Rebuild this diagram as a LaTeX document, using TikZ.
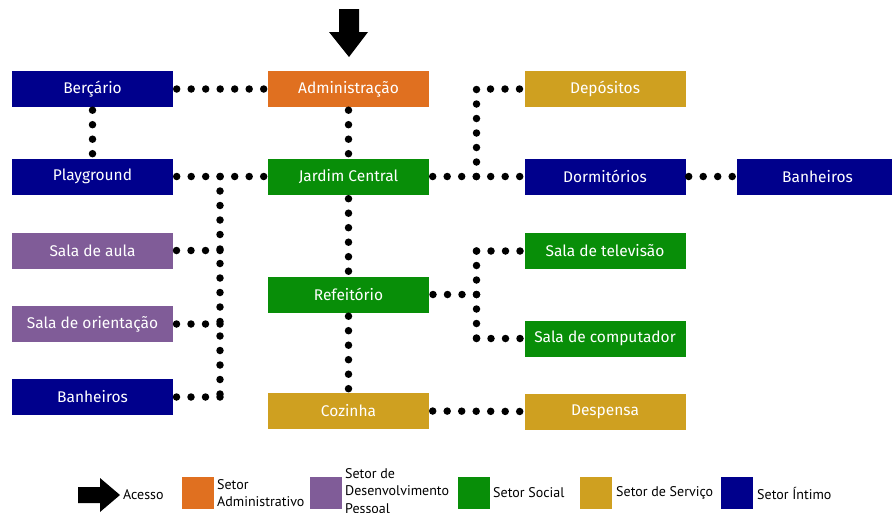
\documentclass[tikz,border=0pt]{standalone}
\usepackage{fontspec}
\setmainfont{Fira Sans}
\newfontfamily\legfont{PT Sans}
\definecolor{cblue}{RGB}{0,0,140}
\definecolor{corange}{RGB}{224,112,32}
\definecolor{cpurple}{RGB}{128,92,152}
\definecolor{cgreen}{RGB}{8,142,8}
\definecolor{cgold}{RGB}{207,160,32}
\begin{document}
\begin{tikzpicture}[x=1pt,y=-1pt,
  room/.style={rectangle, minimum width=161pt, minimum height=36pt, inner sep=0pt, text=white, font=\fontsize{15.5}{17}\selectfont},
  dotline/.style={line width=7.5pt, line cap=round, dash pattern=on 0pt off 14.5pt},
  legsq/.style={rectangle, minimum width=32pt, minimum height=32pt, inner sep=0pt},
  legtxt/.style={anchor=west, inner sep=0pt, align=left, font=\legfont\fontsize{14}{17.5}\selectfont}]
\useasboundingbox (0,0) rectangle (892,512);
% rooms
\node[room, fill=cblue] (ber) at (92.5,89) {Berçário};
\node[room, fill=corange] (adm) at (348.5,89) {Administração};
\node[room, fill=cgold] (dep) at (605,89) {Depósitos};
\node[room, fill=cblue] (play) at (92.5,176.5) {Playground};
\node[room, fill=cgreen] (jar) at (348.5,176.5) {Jardim Central};
\node[room, fill=cblue] (dorm) at (605,176.5) {Dormitórios};
\node[room, fill=cblue] (banR) at (817.5,176.5) {Banheiros};
\node[room, fill=cpurple] (aula) at (92.5,250.5) {Sala de aula};
\node[room, fill=cpurple] (ori) at (92.5,324) {Sala de orientação};
\node[room, fill=cblue] (banL) at (92.5,397) {Banheiros};
\node[room, fill=cgreen] (ref) at (348.5,294.5) {Refeitório};
\node[room, fill=cgold] (coz) at (348.5,411) {Cozinha};
\node[room, fill=cgreen] (tv) at (605,251) {Sala de televisão};
\node[room, fill=cgreen] (cmp) at (605,338.5) {Sala de computador};
\node[room, fill=cgold] (desp) at (605,411.5) {Despensa};
% junctions
\coordinate (jp) at (220,176.5);
\coordinate (ja) at (220,250.5);
\coordinate (jo) at (220,324);
\coordinate (jb) at (220,397);
\coordinate (jd) at (476.5,176.5);
\coordinate (jr) at (476.5,294.5);
\coordinate (jt) at (476.5,251);
\coordinate (jc) at (476.5,338.5);
% connectors
\draw[dotline, shorten <=3.5pt, shorten >=3.5pt] (ber.east) -- (adm.west);
\draw[dotline, shorten <=3pt, shorten >=3pt] (ber.south) -- (play.north);
\draw[dotline, shorten <=3pt, shorten >=3pt] (adm.south) -- (jar.north);
\draw[dotline, shorten <=3.5pt, shorten >=3.5pt] (play.east) -- (jar.west);
\draw[dotline] (jp) -- (jb);
\draw[dotline, shorten >=3pt] (ja) -- (aula.east);
\draw[dotline, shorten >=3pt] (jo) -- (ori.east);
\draw[dotline, shorten >=3pt] (jb) -- (banL.east);
\draw[dotline, shorten <=4pt, shorten >=4pt] (jar.south) -- (ref.north);
\draw[dotline, shorten <=3.5pt, shorten >=3.5pt] (ref.south) -- (coz.north);
\draw[dotline, shorten <=3.5pt, shorten >=3.5pt] (jar.east) -- (dorm.west);
\draw[dotline, shorten >=4pt] (jd) |- (dep.west);
\draw[dotline, shorten <=3pt, shorten >=3pt] (dorm.east) -- (banR.west);
\draw[dotline, shorten >=3pt] (jr) -- (ref.east);
\draw[dotline, shorten >=4pt] (jt) -- (tv.west);
\draw[dotline] (jt) -- (jc);
\draw[dotline, shorten >=4pt] (jc) -- (cmp.west);
\draw[dotline, shorten <=3.5pt, shorten >=3.5pt] (coz.east) -- (desp.west);
% entrance arrow
\fill[black] (339,9) -- (359,9) -- (359,32) -- (368,32) -- (349,57) -- (329,32) -- (339,32) -- cycle;
% legend
\fill[black] (78,487) -- (100,487) -- (100,478) -- (120,495) -- (100,512) -- (100,503) -- (78,503) -- cycle;
\node[legtxt] (lacc) at (123,495) {Acesso};
\node[legsq, fill=corange] (lsa) at (198,493) {};
\node[legtxt] (lsat) at (217,493) {Setor\\Administrativo};
\node[legsq, fill=cpurple] (lsd) at (326,493) {};
\node[legtxt] (lsdt) at (345,491) {Setor de\\Desenvolvimento\\Pessoal};
\node[legsq, fill=cgreen] (lss) at (474,493) {};
\node[legtxt] (lsst) at (493,493) {Setor Social};
\node[legsq, fill=cgold] (lsv) at (596,493) {};
\node[legtxt] (lsvt) at (616,493) {Setor de Serviço};
\node[legsq, fill=cblue] (lsi) at (737,493) {};
\node[legtxt] (lsit) at (757,493) {Setor Íntimo};
\end{tikzpicture}
\end{document}
